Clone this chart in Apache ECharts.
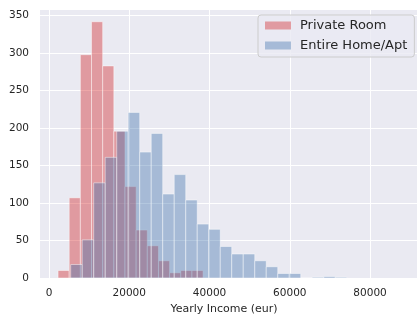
<!DOCTYPE html>
<html>
<head>
<meta charset="utf-8">
<script src="https://cdn.jsdelivr.net/npm/echarts@6/dist/echarts.min.js"></script>
<style>
html,body{margin:0;padding:0;background:#ffffff;}
#chart{width:417px;height:320px;}
</style>
</head>
<body>
<div id="chart"></div>
<script>
// Private Room histogram: bin edges (eur) and counts
const privateEdges = [2250, 5030, 7810, 10590, 13370, 16150, 18930, 21710, 24490, 27270, 30050, 32830, 35610, 38390];
const privateCounts = [10, 107, 298, 342, 283, 196, 122, 64, 43, 23, 7, 10, 10];

// Entire Home/Apt histogram: bin edges (eur) and counts
const entireEdges = [5400, 8270, 11130, 14000, 16870, 19730, 22600, 25470, 28330, 31200, 34070, 36930, 39800, 42670, 45530, 48400, 51270, 54130, 57000, 59870, 62730, 65600, 68470, 71330, 74200];
const entireCounts = [18, 51, 127, 161, 196, 221, 168, 193, 112, 138, 104, 72, 65, 42, 32, 32, 23, 15, 6, 6, 0, 1, 2, 1];

const seriesNames = ['Private Room', 'Entire Home/Apt'];
const xTickValues = [0, 20000, 40000, 60000, 80000];
const xAxisTitle = 'Yearly Income (eur)';

function toBins(edges, counts) {
  return counts.map((c, i) => [edges[i], edges[i + 1], c]);
}

const FONT = 'DejaVu Sans';
const TEXT = '#262626';

function renderBar(params, api) {
  const x0 = api.value(0), x1 = api.value(1), v = api.value(2);
  const p0 = api.coord([x0, v]);
  const p1 = api.coord([x1, 0]);
  return {
    type: 'rect',
    shape: { x: p0[0], y: p0[1], width: p1[0] - p0[0], height: p1[1] - p0[1] },
    style: { fill: api.visual('color'), stroke: 'rgba(255,255,255,0.45)', lineWidth: 1 }
  };
}

const chart = echarts.init(document.getElementById('chart'), null, { renderer: 'canvas' });
chart.setOption({
  animation: false,
  backgroundColor: '#ffffff',
  grid: {
    left: 40, right: 0, top: 9, bottom: 40,
    show: true, backgroundColor: '#EAEAF2', borderWidth: 0
  },
  legend: {
    orient: 'vertical',
    left: 258, top: 15,
    padding: [3, 7, 4, 7],
    itemGap: 5,
    itemWidth: 26, itemHeight: 8,
    icon: 'rect',
    backgroundColor: 'rgba(234,234,242,0.8)',
    borderColor: '#cccccc', borderWidth: 1, borderRadius: 3,
    textStyle: { fontFamily: FONT, fontSize: 13, color: TEXT, lineHeight: 15, padding: [0, 0, 0, 4] },
    data: seriesNames
  },
  xAxis: {
    type: 'value',
    min: -2250, max: 91700,
    name: xAxisTitle,
    nameLocation: 'middle',
    nameGap: 26,
    nameTextStyle: { fontFamily: FONT, fontSize: 11, color: TEXT, padding: [0, 9, 0, 0] },
    axisLine: { show: false },
    axisTick: { show: false, customValues: xTickValues },
    axisLabel: {
      customValues: xTickValues, fontFamily: FONT, fontSize: 10.5, color: TEXT, margin: 10,
      formatter: function (v) { return String(v); }
    },
    splitLine: { show: true, lineStyle: { color: '#ffffff', width: 1 } }
  },
  yAxis: {
    type: 'value',
    min: 0, max: 359, interval: 50,
    axisLine: { show: false },
    axisTick: { show: false },
    axisLabel: {
      fontFamily: FONT, fontSize: 10.5, color: TEXT, margin: 11, showMaxLabel: false,
      formatter: function (v) { return String(v); }
    },
    splitLine: { show: true, lineStyle: { color: '#ffffff', width: 1 } }
  },
  series: [
    {
      name: seriesNames[0],
      type: 'custom',
      renderItem: renderBar,
      itemStyle: { color: 'rgba(210,35,38,0.4)' },
      encode: { x: [0, 1], y: 2 },
      data: toBins(privateEdges, privateCounts),
      z: 2
    },
    {
      name: seriesNames[1],
      type: 'custom',
      renderItem: renderBar,
      itemStyle: { color: 'rgba(66,114,172,0.4)' },
      encode: { x: [0, 1], y: 2 },
      data: toBins(entireEdges, entireCounts),
      z: 3
    }
  ]
});
</script>
</body>
</html>
